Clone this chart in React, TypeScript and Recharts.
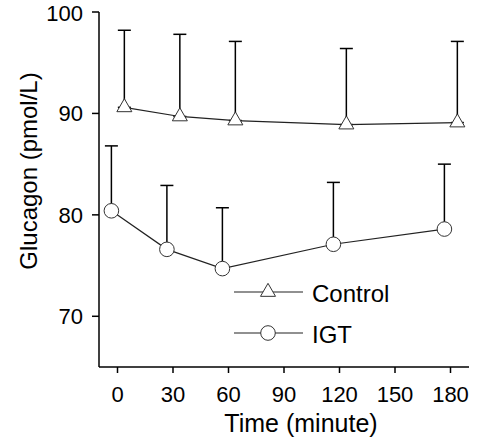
import { LineChart, Line, XAxis, YAxis, ErrorBar, Legend, Label } from 'recharts';

const TIMES = [0, 30, 60, 120, 180];
const X_TICKS = [0, 30, 60, 90, 120, 150, 180];
const Y_TICKS = [70, 80, 90, 100];
const SERIES = ['Control', 'IGT'];

const CONTROL_MEAN = [90.6, 89.7, 89.3, 88.9, 89.1];
const CONTROL_SD = [7.6, 8.1, 7.8, 7.5, 8.0];
const IGT_MEAN = [80.4, 76.6, 74.7, 77.1, 78.6];
const IGT_SD = [6.4, 6.3, 6.0, 6.1, 6.4];

// groups are nudged sideways (minutes) so the bars don't sit on top of each other
const CONTROL_SHIFT = 3.7;
const IGT_SHIFT = -3.3;

const FONT = '"Liberation Sans", Arial, sans-serif';
const INK = '#222';

// only the upper half of each SD bar is drawn
const controlData = TIMES.map((t, i) => ({ time: t + CONTROL_SHIFT, value: CONTROL_MEAN[i], err: [0, CONTROL_SD[i]] }));
const igtData = TIMES.map((t, i) => ({ time: t + IGT_SHIFT, value: IGT_MEAN[i], err: [0, IGT_SD[i]] }));

function triPath(cx: number, cy: number) {
  const w = 15, h = 13;
  return `M${cx},${cy - (2 * h) / 3} L${cx + w / 2},${cy + h / 3} L${cx - w / 2},${cy + h / 3} Z`;
}

const TriangleDot = (props: any) => {
  const { cx, cy, index } = props;
  if (cx == null || cy == null) return null;
  return <path key={`tri-${index}`} d={triPath(cx, cy)} fill="#fff" stroke="#333" strokeWidth={1} />;
};

const CircleDot = (props: any) => {
  const { cx, cy, index } = props;
  if (cx == null || cy == null) return null;
  return <circle key={`circ-${index}`} cx={cx} cy={cy} r={7.3} fill="#fff" stroke="#333" strokeWidth={1} />;
};

const renderLegend = () => (
  <svg width={180} height={84} style={{ fontFamily: FONT, display: 'block' }}>
    <line x1={9} y1={17} x2={78} y2={17} stroke={INK} strokeWidth={1.2} />
    <path d={triPath(43, 17)} fill="#fff" stroke="#333" strokeWidth={1} />
    <text x={87} y={27} fontSize={24} fill="#000">{SERIES[0]}</text>
    <line x1={9} y1={58} x2={78} y2={58} stroke={INK} strokeWidth={1.2} />
    <circle cx={43} cy={58} r={7.3} fill="#fff" stroke="#333" strokeWidth={1} />
    <text x={87} y={68} fontSize={24} fill="#000">{SERIES[1]}</text>
  </svg>
);

export default function App() {
  return (
    <div style={{ position: 'absolute', left: 0, top: 0, fontFamily: FONT }}>
      <LineChart width={483} height={446} margin={{ top: 12, right: 14, bottom: 0, left: 0 }}>
        <XAxis
          type="number"
          dataKey="time"
          domain={[-10, 190]}
          ticks={X_TICKS}
          allowDataOverflow
          height={79}
          tickSize={6}
          tickMargin={13}
          stroke="#000"
          strokeWidth={1.5}
          tick={{ fill: '#000', fontSize: 22 }}
        >
          <Label
            content={() => (
              <text x={301} y={432} textAnchor="middle" fontSize={25} fill="#000">Time (minute)</text>
            )}
          />
        </XAxis>
        <YAxis
          type="number"
          domain={[65, 100]}
          ticks={Y_TICKS}
          allowDataOverflow
          width={99}
          tickSize={7}
          tickMargin={9}
          stroke="#000"
          strokeWidth={1.5}
          tick={{ fill: '#000', fontSize: 22 }}
        >
          <Label
            content={() => (
              <text x={37} y={171} transform="rotate(-90 37 171)" textAnchor="middle" fontSize={24} fill="#000">
                Glucagon (pmol/L)
              </text>
            )}
          />
        </YAxis>
        <Legend
          layout="vertical"
          align="center"
          verticalAlign="middle"
          content={renderLegend}
          wrapperStyle={{ left: 225, top: 275, width: 180, height: 84 }}
        />
        <Line
          data={controlData}
          dataKey="value"
          name={SERIES[0]}
          stroke={INK}
          strokeWidth={1.2}
          dot={TriangleDot}
          activeDot={false}
          isAnimationActive={false}
        >
          <ErrorBar dataKey="err" direction="y" width={6.5} stroke="#000" strokeWidth={1.5} isAnimationActive={false} />
        </Line>
        <Line
          data={igtData}
          dataKey="value"
          name={SERIES[1]}
          stroke={INK}
          strokeWidth={1.2}
          dot={CircleDot}
          activeDot={false}
          isAnimationActive={false}
        >
          <ErrorBar dataKey="err" direction="y" width={6.5} stroke="#000" strokeWidth={1.5} isAnimationActive={false} />
        </Line>
      </LineChart>
    </div>
  );
}
